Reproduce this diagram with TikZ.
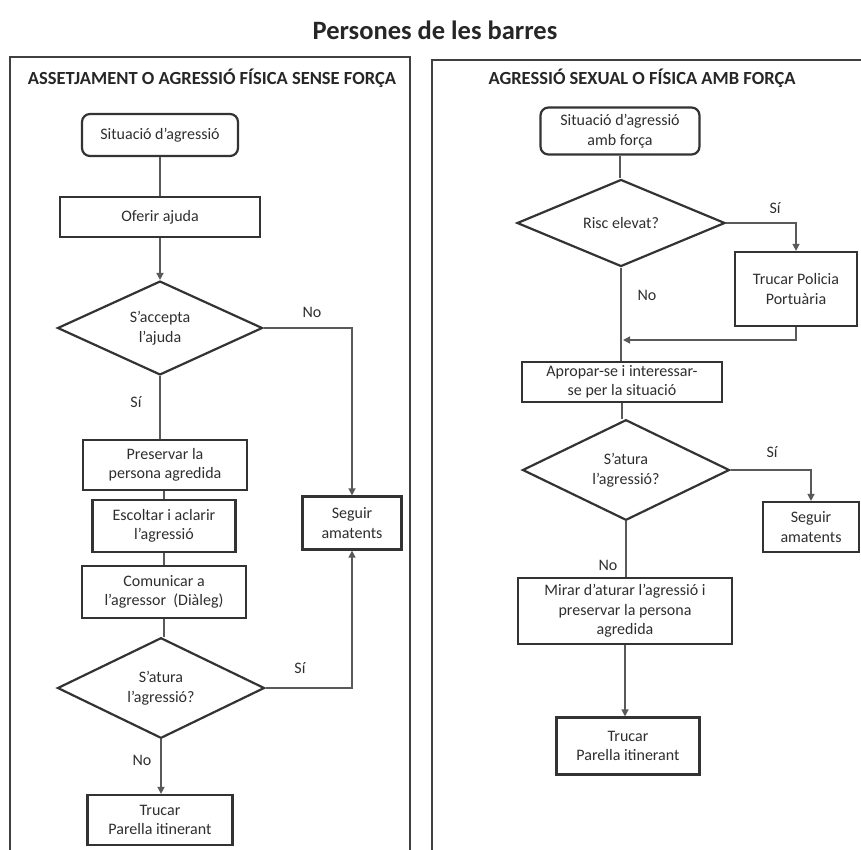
\documentclass[tikz,border=0pt]{standalone}
\usepackage{fontspec}
\setmainfont{Carlito}
\usetikzlibrary{shapes.geometric,arrows.meta}

\begin{document}
\begin{tikzpicture}[x=1pt,y=1pt,yscale=-1,
  every node/.style={font=\fontsize{16}{19.5}\selectfont, text=black!82},
  startbox/.style={draw=black!80, line width=2.2, rounded corners=8, align=center, inner sep=2},
  actbox/.style={draw=black!80, line width=2.2, align=center, inner sep=2},
  askbox/.style={draw=black!80, line width=2.2, diamond, align=center, inner sep=0},
  link/.style={draw=black!65, line width=1.4},
  flow/.style={link, -{Triangle[width=7pt,length=7pt]}},
  lbl/.style={inner sep=0.75},
  panel/.style={draw=black!75, line width=2.4},
  heading/.style={font=\fontsize{18.5}{21}\selectfont\bfseries, text=black!85}]
\useasboundingbox (0,0) rectangle (861,849);

%Title
\node (title) [font=\fontsize{26.5}{30}\selectfont\bfseries, text=black!85] at (435,30) {Persones de les barres};

%Panels
\draw [panel] (10,852) -- (10,57) -- (410,57) -- (410,852);
\draw [panel] (432,852) -- (432,60) -- (866,60);
\node (headL) [heading] at (212,78) {ASSETJAMENT O AGRESSIÓ FÍSICA SENSE FORÇA};
\node (headR) [heading] at (642,78) {AGRESSIÓ SEXUAL O FÍSICA AMB FORÇA};

%Left chart
\node (sitL) [startbox, minimum width=156, minimum height=42] at (160,135) {Situació d’agressió};
\node (ofer) [actbox, minimum width=200, minimum height=40] at (160,217) {Oferir ajuda};
\node (acc) [askbox, minimum width=205, minimum height=84] at (160,328) {S’accepta\\l’ajuda};
\node (pres) [actbox, minimum width=164, minimum height=50] at (165,465) {Preservar la\\persona agredida};
\node (esc) [actbox, minimum width=143, minimum height=52] at (164,526) {Escoltar i aclarir\\l’agressió};
\node (com) [actbox, minimum width=164, minimum height=52] at (164,592) {Comunicar a\\l’agressor\ \ (Diàleg)};
\node (atuL) [askbox, minimum width=207, minimum height=83] at (161,688) {S’atura\\l’agressió?};
\node (segL) [actbox, minimum width=99, minimum height=53] at (352,523) {Seguir\\amatents};
\node (truL) [actbox, minimum width=145, minimum height=50] at (160,820) {Trucar\\Parella itinerant};

\draw [link] (sitL) -- (ofer);
\draw [flow] (ofer) -- (acc);
\draw [flow] (acc.east) -| (segL.north);
\draw [link] (acc.south) -- (acc.south |- pres.north);
\draw [link] (pres.south -| esc.north) -- (esc.north);
\draw [link] (esc) -- (com);
\draw [link] (com.south) -- (com.south |- atuL.north);
\draw [flow] (atuL.east) -| (segL.south);
\draw [flow] (atuL.south) -- (atuL.south |- truL.north);

% Text Node
\node (noA) [lbl] at (312,312) {No};
\node (siA) [lbl] at (136,402) {Sí};
\node (siB) [lbl] at (300,668) {Sí};
\node (noB) [lbl] at (142,760) {No};

%Right chart
\node (sitR) [startbox, minimum width=159, minimum height=47] at (620,131) {Situació d’agressió\\amb força};
\node (risc) [askbox, minimum width=208, minimum height=85] at (621,223) {Risc elevat?};
\node (pol) [actbox, minimum width=122, minimum height=74] at (796,289) {Trucar Policia\\Portuària};
\node (apr) [actbox, minimum width=200, minimum height=40] at (622,382) {Apropar-se i interessar-\\se per la situació};
\node (atuR) [askbox, minimum width=207, minimum height=85] at (626,470) {S’atura\\l’agressió?};
\node (segR) [actbox, minimum width=96, minimum height=50] at (811,527) {Seguir\\amatents};
\node (mir) [actbox, minimum width=214, minimum height=66] at (625,611) {Mirar d’aturar l’agressió i\\preservar la persona\\agredida};
\node (truR) [actbox, minimum width=143, minimum height=57] at (628,746) {Trucar\\Parella itinerant};
\coordinate (merge) at (623,340);

\draw [link] (sitR) -- (sitR |- risc.north);
\draw [flow] (risc.east) -| (pol.north);
\draw [link] (risc.south) -- (risc.south |- apr.north);
\draw [flow] (pol.south) |- (merge);
\draw [link] (apr.south) -- (apr.south |- atuR.north);
\draw [flow] (atuR.east) -| (segR.north);
\draw [link] (atuR.south) -- (atuR.south |- mir.north);
\draw [flow] (mir.south) -- (mir.south |- truR.north);

% Text Node
\node (siC) [lbl] at (775,208) {Sí};
\node (noC) [lbl] at (647,295) {No};
\node (siD) [lbl] at (772,452) {Sí};
\node (noD) [lbl] at (608,565) {No};
\end{tikzpicture}
\end{document}
